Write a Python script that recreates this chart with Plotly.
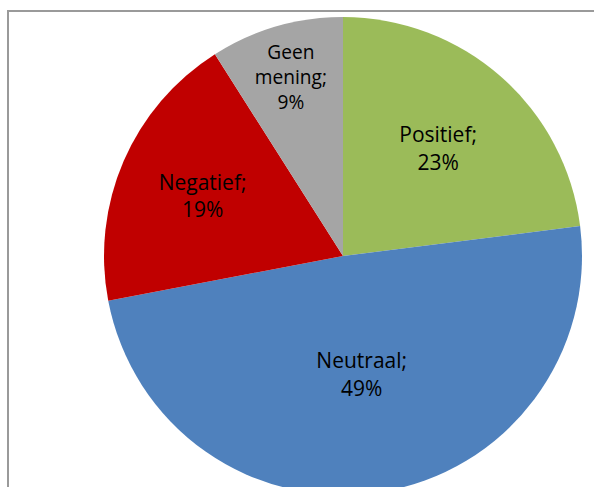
import plotly.graph_objects as go

categories = ["Positief", "Neutraal", "Negatief", "Geen mening"]
values = [23, 49, 19, 9]
colors = ["#9BBB59", "#4F81BD", "#C00000", "#A5A5A5"]

texts = [f"{c.replace(' ', '<br>')};<br>{v}%" for c, v in zip(categories, values)]

W, H = 594, 495
cx, top, r = 343, 17, 239

fig = go.Figure(go.Pie(
    labels=categories,
    values=values,
    text=texts,
    textinfo="text",
    textposition="inside",
    insidetextorientation="horizontal",
    sort=False,
    direction="clockwise",
    rotation=0,
    marker=dict(colors=colors, line=dict(width=0)),
    textfont=dict(family="Open Sans, sans-serif", size=21, color="black"),
    hoverinfo="label+percent",
    domain=dict(x=[(cx - r) / W, (cx + r) / W], y=[1 - (top + 2 * r) / H, 1 - top / H]),
))

fig.update_layout(
    width=W, height=H,
    margin=dict(l=0, r=0, t=0, b=0),
    showlegend=False,
    paper_bgcolor="white",
    plot_bgcolor="white",
    shapes=[dict(type="rect", xref="paper", yref="paper",
                 x0=8 / W, x1=1.2, y0=-0.2, y1=1 - 11 / H,
                 line=dict(color="#9A9A9A", width=2), fillcolor="rgba(0,0,0,0)", layer="below")],
)

fig.write_html(
    "out.html",
    config={"displayModeBar": False},
    post_script="document.body.style.margin='0';document.body.style.overflow='hidden';document.documentElement.style.overflow='hidden';",
)
